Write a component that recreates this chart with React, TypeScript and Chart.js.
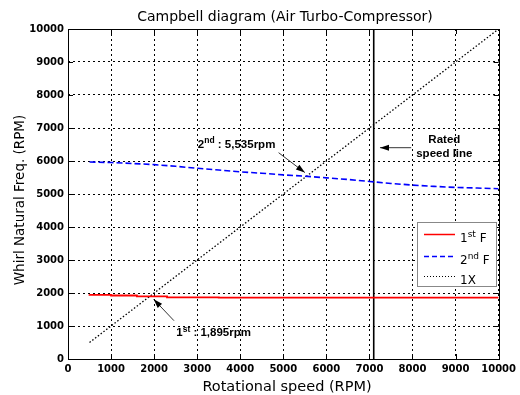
import React, { useEffect, useRef } from 'react';
import { Chart, registerables } from 'chart.js';

Chart.register(...registerables);

// ---- data ----
const TITLE = 'Campbell diagram (Air Turbo-Compressor)';
const X_TITLE = 'Rotational speed (RPM)';
const Y_TITLE = 'Whirl Natural Freq. (RPM)';
const AXIS_MIN = 0;
const AXIS_MAX = 10000;
const AXIS_STEP = 1000;

const firstFX = [500, 1000, 1600, 2300, 3500, 10000];
const firstFY = [1960, 1945, 1925, 1900, 1865, 1860];

const secondFX = [500, 1000, 1500, 2000, 2500, 3000, 3500, 4000, 4500, 5000, 5500, 6000, 6500, 7000, 7500, 8000, 8500, 9000, 9500, 10000];
const secondFY = [5970, 5955, 5925, 5890, 5840, 5780, 5725, 5670, 5630, 5580, 5540, 5490, 5440, 5380, 5320, 5270, 5230, 5200, 5180, 5160];

const oneXX = [500, 10000];
const oneXY = [500, 10000];

const RATED_SPEED = 7100;

// annotation anchors (data units)
const ann2Text = { x: 3016, y: 6515 };
const ann2Arrow = { x1: 4891, y1: 6252, x2: 5500, y2: 5650 };
const ann1Text = { x: 2515, y: 809 };
const ann1Arrow = { x1: 2461, y1: 1161, x2: 1990, y2: 1809 };
const ratedText = { x: 8740, y1: 6657, y2: 6233 };
const ratedArrow = { x1: 7970, y1: 6403, x2: 7245, y2: 6403 };

const zip = (xs: number[], ys: number[]) => xs.map((x, i) => ({ x, y: ys[i] }));

const DEJAVU = '"DejaVu Sans", "Liberation Sans", Arial, sans-serif';
const HELV = '"Liberation Sans", Arial, Helvetica, sans-serif';

type Seg = { t: string; sup?: boolean };

function drawRich(ctx: CanvasRenderingContext2D, x: number, cy: number, segs: Seg[], size: number, supSize: number, weight: string, fam: string, align: 'left' | 'center') {
  const widths = segs.map((s) => {
    ctx.font = `${weight} ${s.sup ? supSize : size}px ${fam}`;
    return ctx.measureText(s.t).width;
  });
  const total = widths.reduce((a, b) => a + b, 0);
  let cx = align === 'center' ? x - total / 2 : x;
  const base = cy + size * 0.36;
  ctx.textAlign = 'left';
  ctx.textBaseline = 'alphabetic';
  segs.forEach((s, i) => {
    ctx.font = `${weight} ${s.sup ? supSize : size}px ${fam}`;
    ctx.fillText(s.t, cx, s.sup ? base - size * 0.42 : base);
    cx += widths[i];
  });
}

function drawArrow(ctx: CanvasRenderingContext2D, x1: number, y1: number, x2: number, y2: number) {
  const ang = Math.atan2(y2 - y1, x2 - x1);
  const len = 9;
  const half = 3;
  ctx.save();
  ctx.strokeStyle = '#000';
  ctx.fillStyle = '#000';
  ctx.lineWidth = 0.8;
  ctx.beginPath();
  ctx.moveTo(x1, y1);
  ctx.lineTo(x2, y2);
  ctx.stroke();
  const bx = x2 - len * Math.cos(ang);
  const by = y2 - len * Math.sin(ang);
  const px = -Math.sin(ang) * half;
  const py = Math.cos(ang) * half;
  ctx.beginPath();
  ctx.moveTo(x2, y2);
  ctx.lineTo(bx + px, by + py);
  ctx.lineTo(bx - px, by - py);
  ctx.closePath();
  ctx.fill();
  ctx.restore();
}

const overlayPlugin = {
  id: 'overlay',
  afterDraw(chart: any) {
    const { ctx, chartArea: a, scales } = chart;
    const xs = scales.x;
    const ys = scales.y;
    ctx.save();
    // frame
    ctx.strokeStyle = '#000';
    ctx.lineWidth = 1;
    ctx.setLineDash([]);
    ctx.strokeRect(Math.round(a.left) + 0.5, Math.round(a.top) + 0.5, Math.round(a.right - a.left), Math.round(a.bottom - a.top));
    // inward ticks
    ctx.beginPath();
    for (let v = AXIS_MIN; v <= AXIS_MAX; v += AXIS_STEP) {
      const px = Math.round(xs.getPixelForValue(v)) + 0.5;
      ctx.moveTo(px, a.bottom); ctx.lineTo(px, a.bottom - 5);
      ctx.moveTo(px, a.top); ctx.lineTo(px, a.top + 5);
      const py = Math.round(ys.getPixelForValue(v)) + 0.5;
      ctx.moveTo(a.left, py); ctx.lineTo(a.left + 5, py);
      ctx.moveTo(a.right, py); ctx.lineTo(a.right - 5, py);
    }
    ctx.stroke();

    // titles
    ctx.fillStyle = '#000';
    ctx.textAlign = 'center';
    ctx.textBaseline = 'alphabetic';
    ctx.font = `14px ${DEJAVU}`;
    ctx.fillText(TITLE, 285, 21);
    ctx.font = `14.5px ${DEJAVU}`;
    ctx.fillText(X_TITLE, 287, 391);
    ctx.save();
    ctx.translate(24, 200);
    ctx.rotate(-Math.PI / 2);
    ctx.font = `13.5px ${DEJAVU}`;
    ctx.fillText(Y_TITLE, 0, 0);
    ctx.restore();

    // annotations
    const X = (v: number) => xs.getPixelForValue(v);
    const Y = (v: number) => ys.getPixelForValue(v);
    drawRich(ctx, X(ann2Text.x), Y(ann2Text.y), [{ t: '2' }, { t: 'nd', sup: true }, { t: ' : 5,535rpm' }], 11.5, 8.5, 'bold', HELV, 'left');
    drawArrow(ctx, X(ann2Arrow.x1), Y(ann2Arrow.y1), X(ann2Arrow.x2), Y(ann2Arrow.y2));
    drawRich(ctx, X(ann1Text.x), Y(ann1Text.y), [{ t: '1' }, { t: 'st', sup: true }, { t: ' : 1,895rpm' }], 11.5, 8.5, 'bold', HELV, 'left');
    drawArrow(ctx, X(ann1Arrow.x1), Y(ann1Arrow.y1), X(ann1Arrow.x2), Y(ann1Arrow.y2));
    drawRich(ctx, X(ratedText.x), Y(ratedText.y1), [{ t: 'Rated' }], 11.5, 8.5, 'bold', HELV, 'center');
    drawRich(ctx, X(ratedText.x), Y(ratedText.y2), [{ t: 'speed line' }], 11.5, 8.5, 'bold', HELV, 'center');
    drawArrow(ctx, X(ratedArrow.x1), Y(ratedArrow.y1), X(ratedArrow.x2), Y(ratedArrow.y2));

    // legend
    const bw = 79, bh = 64;
    const bx = Math.round(a.right) - 3 - bw;
    const by = Math.round(a.bottom) - 73 - bh;
    ctx.fillStyle = '#fff';
    ctx.fillRect(bx + 0.5, by + 0.5, bw, bh);
    ctx.strokeStyle = '#888';
    ctx.lineWidth = 1;
    ctx.strokeRect(bx + 0.5, by + 0.5, bw, bh);
    const items = [
      { color: '#ff0000', dash: [] as number[], w: 1.5, segs: [{ t: '1' }, { t: 'st', sup: true }, { t: ' F' }] },
      { color: '#0000ff', dash: [5, 3], w: 1.5, segs: [{ t: '2' }, { t: 'nd', sup: true }, { t: ' F' }] },
      { color: '#000000', dash: [1, 2], w: 1.2, segs: [{ t: '1X' }] },
    ];
    const rowY = [12, 34, 54];
    items.forEach((it, i) => {
      const yy = by + rowY[i] + 0.5;
      ctx.strokeStyle = it.color;
      ctx.lineWidth = it.w;
      ctx.setLineDash(it.dash);
      ctx.beginPath();
      ctx.moveTo(bx + 7, yy);
      ctx.lineTo(bx + 38, yy);
      ctx.stroke();
      ctx.setLineDash([]);
      ctx.fillStyle = '#000';
      drawRich(ctx, bx + 43, yy + 3, it.segs as Seg[], 12, 9, 'normal', DEJAVU, 'left');
    });
    ctx.restore();
  },
};

export default function App() {
  const ref = useRef<HTMLCanvasElement | null>(null);
  useEffect(() => {
    if (!ref.current) return;
    const tickFont = { family: DEJAVU, size: 10, weight: 'bold' as const };
    const fmt = (v: any) => String(v);
    const chart = new Chart(ref.current, {
      type: 'line',
      data: {
        datasets: [
          { label: '1st F', data: zip(firstFX, firstFY), borderColor: '#ff0000', borderWidth: 1.8, pointRadius: 0, stepped: 'after' as const, fill: false },
          { label: '2nd F', data: zip(secondFX, secondFY), borderColor: '#0000ff', borderWidth: 1.6, borderDash: [6, 3], pointRadius: 0, fill: false },
          { label: '1X', data: zip(oneXX, oneXY), borderColor: '#000000', borderWidth: 1.3, borderDash: [1.5, 2], pointRadius: 0, fill: false },
          { label: 'Rated', data: [{ x: RATED_SPEED, y: AXIS_MIN }, { x: RATED_SPEED, y: AXIS_MAX }], borderColor: '#000000', borderWidth: 1.6, pointRadius: 0, fill: false },
        ],
      },
      options: {
        animation: false,
        responsive: false,
        devicePixelRatio: 1,
        layout: { padding: { top: 29, right: 20, left: 0, bottom: 0 } },
        plugins: { legend: { display: false }, title: { display: false }, tooltip: { enabled: false } },
        scales: {
          x: {
            type: 'linear',
            min: AXIS_MIN,
            max: AXIS_MAX,
            ticks: { stepSize: AXIS_STEP, color: '#000', font: tickFont, padding: 4, maxRotation: 0, autoSkip: false, callback: fmt },
            grid: { color: '#000', lineWidth: 1, drawTicks: false },
            border: { display: false, dash: [2, 3] },
            afterFit: (s: any) => { s.height = 36; },
          },
          y: {
            type: 'linear',
            min: AXIS_MIN,
            max: AXIS_MAX,
            ticks: { stepSize: AXIS_STEP, color: '#000', font: tickFont, padding: 4, autoSkip: false, callback: fmt },
            grid: { color: '#000', lineWidth: 1, drawTicks: false },
            border: { display: false, dash: [2, 3] },
            afterFit: (s: any) => { s.width = 68; },
          },
        },
      } as any,
      plugins: [overlayPlugin],
    });
    return () => chart.destroy();
  }, []);
  return (
    <div style={{ position: 'fixed', left: 0, top: 0, width: 520, height: 395, background: '#fff' }}>
      <canvas ref={ref} width={520} height={395} style={{ display: 'block', width: 520, height: 395 }} />
    </div>
  );
}
